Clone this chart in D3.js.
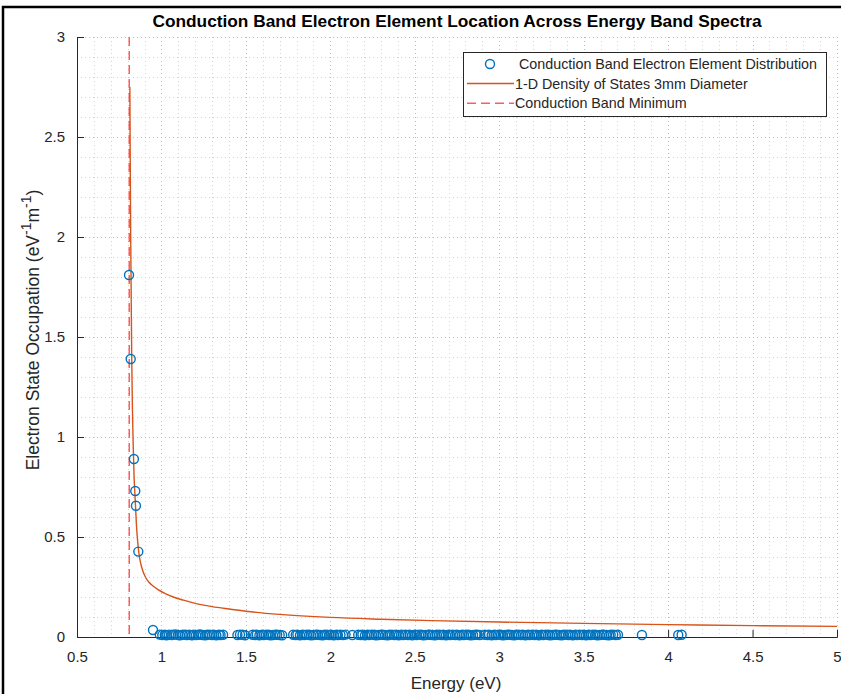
<!DOCTYPE html>
<meta charset="utf-8">
<script src="https://d3js.org/d3.v7.min.js"></script>
<style>
    body { margin: 0; background: #fff; }
    text { font-family: "Liberation Sans", Arial, sans-serif; }
</style>
<div id="chart"></div>
<script>
    // Peak electrons right above the band minimum
    var peakEnergy = [0.808, 0.818, 0.837, 0.845, 0.849, 0.863, 0.95];
    var peakOccupation = [1.81, 1.39, 0.89, 0.73, 0.656, 0.427, 0.035];

    // Electrons sitting near zero occupation along the spectrum: [energy, occupation]
    var tailElectrons = [
        [0.99, 0.012], [1.005, 0.010], [1.02, 0.011], [1.03, 0.009], [1.045, 0.012], [1.06, 0.010], [1.07, 0.011], [1.085, 0.013], [1.10, 0.010], [1.11, 0.009],
        [1.125, 0.011], [1.14, 0.012], [1.15, 0.010], [1.165, 0.011], [1.18, 0.009], [1.19, 0.012], [1.205, 0.010], [1.22, 0.011], [1.23, 0.013], [1.245, 0.010],
        [1.26, 0.009], [1.27, 0.011], [1.285, 0.012], [1.30, 0.010], [1.31, 0.011], [1.325, 0.009], [1.34, 0.012], [1.35, 0.010], [1.365, 0.011],
        [1.45, 0.010], [1.465, 0.012], [1.48, 0.011], [1.495, 0.009],
        [1.54, 0.011], [1.555, 0.010], [1.565, 0.012], [1.58, 0.009], [1.595, 0.011], [1.605, 0.010], [1.62, 0.012], [1.635, 0.011], [1.645, 0.009], [1.66, 0.010],
        [1.675, 0.012], [1.685, 0.011], [1.70, 0.010], [1.715, 0.009],
        [1.78, 0.011], [1.795, 0.010], [1.805, 0.012], [1.82, 0.009], [1.835, 0.011], [1.845, 0.010], [1.86, 0.012], [1.875, 0.011], [1.885, 0.009], [1.90, 0.010],
        [1.915, 0.012], [1.925, 0.011], [1.94, 0.010], [1.955, 0.009], [1.965, 0.011], [1.98, 0.012], [1.995, 0.010], [2.005, 0.011], [2.02, 0.009], [2.035, 0.012],
        [2.045, 0.010], [2.06, 0.011], [2.075, 0.010], [2.09, 0.012],
        [2.13, 0.010],
        [2.165, 0.011], [2.18, 0.010], [2.19, 0.012], [2.205, 0.009], [2.22, 0.011], [2.23, 0.010], [2.245, 0.012], [2.26, 0.011], [2.27, 0.009], [2.285, 0.010],
        [2.30, 0.012], [2.31, 0.011], [2.325, 0.010], [2.34, 0.009], [2.35, 0.011], [2.365, 0.012], [2.38, 0.010], [2.39, 0.011], [2.405, 0.009], [2.42, 0.012],
        [2.43, 0.010], [2.445, 0.011], [2.46, 0.010], [2.47, 0.012], [2.485, 0.009], [2.50, 0.011], [2.51, 0.010], [2.525, 0.012], [2.54, 0.011], [2.55, 0.009],
        [2.565, 0.010], [2.58, 0.012], [2.59, 0.011], [2.605, 0.010], [2.62, 0.009], [2.63, 0.011], [2.645, 0.012], [2.66, 0.010], [2.67, 0.011], [2.685, 0.009],
        [2.70, 0.012], [2.71, 0.010], [2.725, 0.011], [2.74, 0.010], [2.75, 0.012], [2.765, 0.009], [2.78, 0.011], [2.79, 0.010], [2.805, 0.012], [2.82, 0.011],
        [2.83, 0.009], [2.845, 0.010], [2.86, 0.012], [2.87, 0.011], [2.885, 0.010],
        [2.915, 0.011], [2.93, 0.010], [2.94, 0.012], [2.955, 0.009], [2.97, 0.011], [2.98, 0.010], [2.995, 0.012], [3.01, 0.011], [3.02, 0.009], [3.035, 0.010],
        [3.05, 0.012], [3.06, 0.011], [3.075, 0.010], [3.09, 0.009], [3.10, 0.011], [3.115, 0.012], [3.13, 0.010], [3.14, 0.011], [3.155, 0.009], [3.17, 0.012],
        [3.18, 0.010], [3.195, 0.011], [3.21, 0.010], [3.22, 0.012], [3.235, 0.009], [3.25, 0.011], [3.26, 0.010], [3.275, 0.012], [3.29, 0.011], [3.30, 0.009],
        [3.315, 0.010], [3.33, 0.012], [3.34, 0.011], [3.355, 0.010], [3.37, 0.009], [3.38, 0.011], [3.395, 0.012], [3.41, 0.010], [3.42, 0.011], [3.435, 0.009],
        [3.45, 0.012], [3.46, 0.010], [3.475, 0.011], [3.49, 0.010], [3.50, 0.012], [3.515, 0.009], [3.53, 0.011], [3.54, 0.010], [3.555, 0.012], [3.57, 0.011],
        [3.58, 0.009], [3.595, 0.010], [3.61, 0.012], [3.62, 0.011], [3.635, 0.010], [3.65, 0.009], [3.66, 0.011], [3.675, 0.012], [3.69, 0.010], [3.703, 0.011],
        [3.845, 0.010], [4.06, 0.010], [4.08, 0.011]
    ];

    // 1-D density of states curve
    var dosEnergy = [0.813, 0.815, 0.818, 0.821, 0.824, 0.828, 0.833, 0.838, 0.845, 0.852, 0.860, 0.868,
        0.878, 0.890, 0.905, 0.925, 0.95, 0.98, 1.02, 1.07, 1.13, 1.20, 1.30, 1.40, 1.50, 1.70, 2.00, 2.30,
        2.60, 3.00, 3.50, 4.00, 4.50, 5.00];
    var dosValue = [2.75, 2.40, 2.00, 1.70, 1.40, 1.15, 0.95, 0.80, 0.68, 0.56, 0.47, 0.41,
        0.365, 0.33, 0.30, 0.275, 0.255, 0.237, 0.218, 0.200, 0.184, 0.168, 0.152, 0.140, 0.129, 0.113, 0.098, 0.089,
        0.082, 0.075, 0.068, 0.062, 0.057, 0.053];

    var bandMinimum = 0.81;

    var xTicks = [0.5, 1, 1.5, 2, 2.5, 3, 3.5, 4, 4.5, 5];
    var yTicks = [0, 0.5, 1, 1.5, 2, 2.5, 3];

    var legendLabels = ["Conduction Band Electron Element Distribution",
        "1-D Density of States 3mm Diameter",
        "Conduction Band Minimum"];

    var W = 841, H = 694;
    var margin = { top: 37, right: 4, bottom: 57, left: 77 },
        width = W - margin.left - margin.right,
        height = H - margin.top - margin.bottom;

    var blue = "#0072BD", orange = "#D95319", red = "#FF5C5C", axisCol = "#262626";

    var svgRoot = d3.select("#chart").append("svg")
        .attr("width", W)
        .attr("height", H);

    // figure frame (top and left edge)
    svgRoot.append("path")
        .attr("d", "M3,694 V7 H841")
        .attr("fill", "none")
        .attr("stroke", "#000")
        .attr("stroke-width", 2.5);

    var svg = svgRoot.append("g")
        .attr("transform", "translate(" + margin.left + "," + margin.top + ")");

    var x = d3.scaleLinear().domain([0.5, 5]).range([0, width]);
    var y = d3.scaleLinear().domain([0, 3]).range([height, 0]);

    // grid: minor every 0.1, major at ticks
    var xMinor = d3.range(5, 51).map(function (d) { return d / 10; });
    var yMinor = d3.range(0, 31).map(function (d) { return d / 10; });

    svg.append("g").selectAll("line")
        .data(xMinor)
        .enter().append("line")
        .attr("x1", function (d) { return Math.round(x(d)) + 0.5; })
        .attr("x2", function (d) { return Math.round(x(d)) + 0.5; })
        .attr("y1", 0).attr("y2", height)
        .attr("stroke", function (d) { return xTicks.indexOf(d) >= 0 ? "#bdbdbd" : "#d3d3d3"; })
        .attr("stroke-dasharray", "1,3");

    svg.append("g").selectAll("line")
        .data(yMinor)
        .enter().append("line")
        .attr("y1", function (d) { return Math.round(y(d)) + 0.5; })
        .attr("y2", function (d) { return Math.round(y(d)) + 0.5; })
        .attr("x1", 0).attr("x2", width)
        .attr("stroke", function (d) { return yTicks.indexOf(d) >= 0 ? "#bdbdbd" : "#d3d3d3"; })
        .attr("stroke-dasharray", "1,3");

    // axes (MATLAB style: ticks pointing inward)
    var xAxis = svg.append("g")
        .attr("transform", "translate(0," + height + ")")
        .call(d3.axisBottom(x).tickValues(xTicks).tickSize(-7).tickPadding(14)
            .tickFormat(function (d) { return d; }));
    var yAxis = svg.append("g")
        .call(d3.axisLeft(y).tickValues(yTicks).tickSize(-7).tickPadding(12)
            .tickFormat(function (d) { return d; }));

    [xAxis, yAxis].forEach(function (a) {
        a.select(".domain").attr("stroke", axisCol);
        a.selectAll(".tick line").attr("stroke", axisCol);
        a.selectAll(".tick text")
            .attr("fill", axisCol)
            .attr("font-size", 15)
            .attr("font-family", "'Liberation Sans', Arial, sans-serif");
    });

    // band minimum
    var xb = Math.round(x(bandMinimum)) + 0.25;
    svg.append("line")
        .attr("x1", xb).attr("x2", xb)
        .attr("y1", 0).attr("y2", height)
        .attr("stroke", red)
        .attr("stroke-width", 1.5)
        .attr("stroke-dasharray", "9,5");

    // density of states
    var dos = dosEnergy.map(function (e, i) { return { e: e, v: dosValue[i] }; });
    svg.append("path")
        .datum(dos)
        .attr("fill", "none")
        .attr("stroke", orange)
        .attr("stroke-width", 1.4)
        .attr("d", d3.line()
            .curve(d3.curveMonotoneX)
            .x(function (d) { return x(d.e); })
            .y(function (d) { return y(d.v); }));

    // electrons
    var pts = peakEnergy.map(function (e, i) { return { e: e, v: peakOccupation[i] }; })
        .concat(tailElectrons.map(function (p) { return { e: p[0], v: p[1] }; }));
    svg.append("g").selectAll("circle")
        .data(pts)
        .enter().append("circle")
        .attr("cx", function (d) { return x(d.e); })
        .attr("cy", function (d) { return y(d.v); })
        .attr("r", 4.5)
        .attr("fill", "none")
        .attr("stroke", blue)
        .attr("stroke-width", 1.4);

    // legend
    var lg = svg.append("g").attr("transform", "translate(" + (463 - margin.left) + "," + (52 - margin.top) + ")");
    lg.append("rect")
        .attr("x", 0.5).attr("y", 0.5)
        .attr("width", 363).attr("height", 64)
        .attr("fill", "#fff")
        .attr("stroke", axisCol)
        .attr("stroke-width", 1);
    lg.append("circle")
        .attr("cx", 27).attr("cy", 12)
        .attr("r", 4.5)
        .attr("fill", "none").attr("stroke", blue).attr("stroke-width", 1.4);
    lg.append("line")
        .attr("x1", 4).attr("x2", 51).attr("y1", 31.5).attr("y2", 31.5)
        .attr("stroke", orange).attr("stroke-width", 1.4);
    lg.append("line")
        .attr("x1", 4).attr("x2", 51).attr("y1", 51.25).attr("y2", 51.25)
        .attr("stroke", red).attr("stroke-width", 1.5).attr("stroke-dasharray", "9,5");
    lg.selectAll("text.lab")
        .data(legendLabels)
        .enter().append("text")
        .attr("class", "lab")
        .attr("x", function (d, i) { return i === 0 ? 56 : 52; })
        .attr("y", function (d, i) { return 12 + i * 19.5; })
        .attr("dy", "0.35em")
        .attr("font-size", 14.3)
        .attr("fill", axisCol)
        .text(function (d) { return d; });

    // title and axis labels
    svgRoot.append("text")
        .attr("x", 457).attr("y", 27)
        .attr("text-anchor", "middle")
        .attr("font-size", 17.3)
        .attr("font-weight", "bold")
        .attr("fill", "#000")
        .text("Conduction Band Electron Element Location Across Energy Band Spectra");

    svgRoot.append("text")
        .attr("x", 456).attr("y", 689)
        .attr("text-anchor", "middle")
        .attr("font-size", 17)
        .attr("fill", axisCol)
        .text("Energy (eV)");

    var yl = svgRoot.append("text")
        .attr("transform", "translate(39,330) rotate(-90)")
        .attr("text-anchor", "middle")
        .attr("font-size", 17.5)
        .attr("fill", axisCol);
    yl.append("tspan").text("Electron State Occupation (eV");
    yl.append("tspan").attr("dy", -8).attr("font-size", 14).text("-1");
    yl.append("tspan").attr("dy", 8).text("m");
    yl.append("tspan").attr("dy", -8).attr("font-size", 14).text("-1");
    yl.append("tspan").attr("dy", 8).text(")");
</script>
